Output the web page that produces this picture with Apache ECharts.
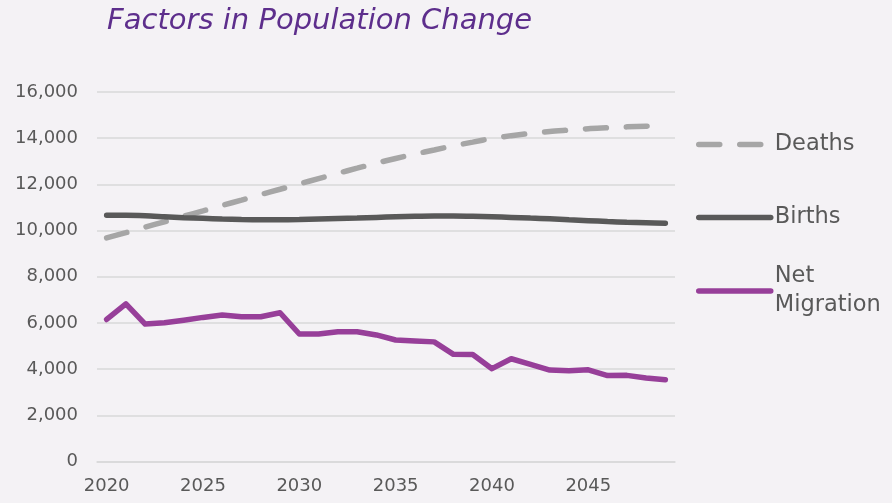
<!DOCTYPE html>
<html>
<head>
<meta charset="utf-8">
<script src="https://cdn.jsdelivr.net/npm/echarts@6/dist/echarts.min.js"></script>
<style>
html,body{margin:0;padding:0;background:#f4f2f5;}
#c{width:892px;height:503px;}
</style>
</head>
<body>
<div id="c"></div>
<script>
const years = [];
for (let y = 2020; y <= 2049; y++) years.push(String(y));
const deaths = [9680,9910,10150,10380,10620,10850,11090,11320,11560,11790,12020,12250,12480,12700,12920,13120,13310,13490,13670,13830,13990,14110,14210,14290,14350,14410,14450,14490,14520,14540];
const births = [10660,10660,10640,10600,10560,10530,10500,10480,10470,10470,10480,10500,10520,10540,10570,10600,10620,10630,10630,10620,10600,10570,10540,10510,10470,10430,10390,10360,10340,10320];
const netMigration = [6150,6830,5950,6010,6120,6240,6340,6270,6270,6440,5520,5520,5620,5620,5480,5260,5220,5180,4640,4630,4020,4450,4210,3960,3930,3970,3720,3730,3620,3540];
const yTicks = {min:0, max:16000, interval:2000};

const font = 'DejaVu Sans';
const chart = echarts.init(document.getElementById('c'));
const legendBase = {
  orient:'vertical', left:696, itemWidth:72, itemHeight:14, itemGap:0, padding:0,
  itemStyle:{opacity:0, borderWidth:0},
  lineStyle:{width:5.5, cap:'round'},
  textStyle:{fontFamily:font, fontSize:22.5, color:'#595959', lineHeight:29, padding:[0,0,0,-1]}
};
chart.setOption({
  backgroundColor:'#f4f2f5',
  animation:false,
  title:{text:'Factors in Population Change', left:102, top:2,
    textStyle:{fontFamily:font, fontStyle:'italic', fontWeight:'normal', fontSize:29, color:'#5d2e8c'}},
  legend:[
    Object.assign({}, legendBase, {top:130, data:['Deaths']}),
    Object.assign({}, legendBase, {top:203, data:['Births']}),
    Object.assign({}, legendBase, {top:247.5, data:['Net Migration'],
      formatter:()=>'Net\nMigration',
      textStyle:Object.assign({}, legendBase.textStyle, {padding:[29,0,0,-1]})})
  ],
  grid:{left:97, right:217, top:92, bottom:41.5, containLabel:false},
  xAxis:{type:'category', data:years, boundaryGap:true,
    axisLine:{show:true, lineStyle:{color:'#d9d9d9', width:1.5}},
    axisTick:{show:false},
    axisLabel:{interval:4, fontFamily:font, fontSize:18, color:'#595959', margin:16}},
  yAxis:{type:'value', min:yTicks.min, max:yTicks.max, interval:yTicks.interval,
    axisLine:{show:false}, axisTick:{show:false},
    splitLine:{lineStyle:{color:'#d9d9d9', width:1.5}},
    axisLabel:{fontFamily:font, fontSize:18, color:'#595959', margin:19,
      formatter:v=>v.toLocaleString('en-US')}},
  series:[
    {name:'Deaths', type:'line', data:deaths, symbol:'none', smooth:0.3,
      lineStyle:{color:'#a6a6a6', width:5.5, type:[21,20], cap:'round'}, itemStyle:{color:'#a6a6a6'}},
    {name:'Births', type:'line', data:births, symbol:'none', smooth:0.3,
      lineStyle:{color:'#595959', width:5.5, cap:'round'}, itemStyle:{color:'#595959'}},
    {name:'Net Migration', type:'line', data:netMigration, symbol:'none',
      lineStyle:{color:'#973f99', width:5.5, cap:'round', join:'round'}, itemStyle:{color:'#973f99'}}
  ]
});
</script>
</body>
</html>
